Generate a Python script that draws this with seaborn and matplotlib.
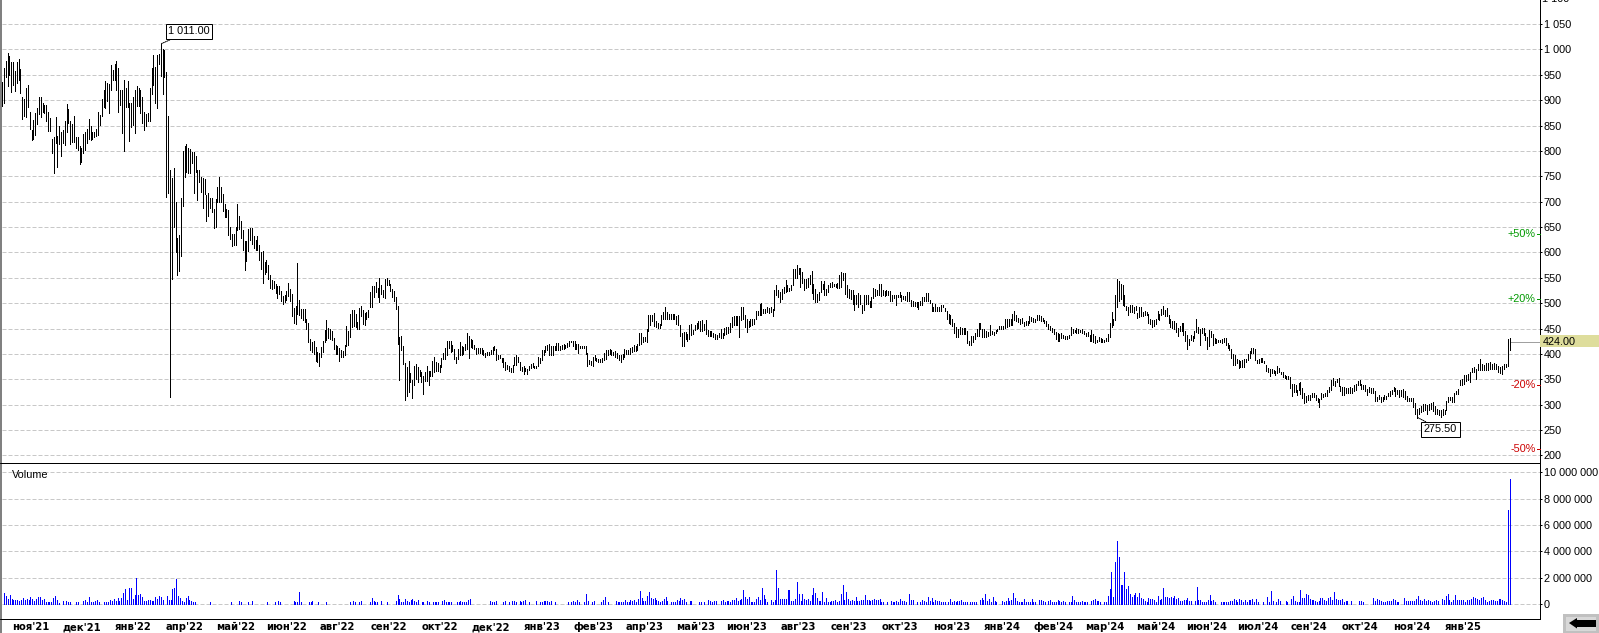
import numpy as np
import pandas as pd
import matplotlib
matplotlib.use("Agg")
import matplotlib.pyplot as plt
from matplotlib.patches import Rectangle, Polygon
from matplotlib.lines import Line2D
import seaborn as sns

W, H = 1599, 633

high_a = [935,963,977,992,987,975,975,958,976,981,961,907,902,923,929,877,841,860,874,884,907,907,894,890,890,877,864,823,828,866,829,849,837,842,858,892,882,858,853,869,827,828,810,805,833,838,844,863,849,838,838,844,877,871,902,921,938,933,932,969,959,971,978,963,921,920,940,923,938,895,894,906,920,928,923,920,906,877,873,874,923,963,989,966,989,991,1011,1000,998,956]
low_a = [888,895,946,928,950,917,930,919,933,940,915,862,869,867,886,844,821,823,831,854,873,867,877,875,858,840,840,796,756,816,769,813,791,815,812,838,856,813,818,818,805,802,775,779,796,802,815,823,821,823,827,829,831,851,869,886,884,899,874,921,940,940,920,877,890,836,800,887,887,820,848,851,836,888,888,874,856,842,849,858,859,913,930,895,884,971,948,912,946,710]

high_b = [868,762,746,767,699,628,634,707,799,809,813,805,803,798,797,791,763,763,749,747,745,713,718,708,707,686,705,728,748,728,715,695,685,683,650,637,637,650,695,671,661,644,622,622,647,648,648,632,624,632,614,601,602,582,586,576,555,545,544,538,533,533,525,515,517,525,540,528,519,491,494,580,507,489,489,489,468,461,430,423,425,413,404,402,413,425,448,466,452,450,446,431,417,415,412,407,406,418,456,446,479,486,486,479,463,491,494,486,481,482,486]
low_b = [717,315,548,651,601,555,563,593,692,749,759,757,757,776,718,759,703,738,719,688,716,662,672,687,680,648,650,699,699,699,682,670,670,634,626,613,614,614,644,647,629,604,565,584,602,624,617,609,604,604,586,567,540,558,561,548,530,528,530,520,510,519,505,498,502,507,515,505,475,461,459,479,476,471,466,463,450,423,407,404,400,387,385,377,395,404,423,427,431,430,427,410,399,399,386,395,394,397,415,418,434,453,456,453,450,450,474,459,458,469,473]

high_c = [523,533,533,541,530,549,535,526,547,550,545,538,528,525,513,495,434,436,416,382,375,387,362,349,377,380,375,368,364,357,364,377,367,367,387,395,384,382,379,392,401,412,425,426,425,418,409,395,409,424,416,414,420,442,436,430,428,418,412,412,412,412,407,401,403,403,408,413,415,409,397,398,393,392,385,378,377,372,379,395,397,395,385,375,377,372,370,377,380,382,377,377,395,393,407,407,415,418,420,415,415,415,422,422,416,417,420,418,421,426,426,425,426,420,420,415,415,416,415,402,389,387,395,397,392,390]
low_c = [492,493,513,522,513,502,518,513,510,535,535,525,512,504,488,420,349,407,380,310,318,326,344,313,338,351,344,357,344,322,346,346,339,357,357,364,366,367,365,374,390,391,398,412,403,405,390,382,390,398,397,399,408,410,393,413,411,410,399,401,401,400,397,395,397,397,399,400,407,389,391,392,385,374,369,370,366,364,364,378,378,384,369,367,361,366,361,369,372,374,372,372,376,382,389,398,403,407,398,397,397,407,407,408,408,410,410,412,413,416,423,415,410,410,401,412,412,412,400,376,380,378,377,388,387,385]

high_d = [391,393,402,408,408,410,408,403,405,402,398,398,399,409,407,407,412,413,418,415,420,441,441,434,434,449,477,477,477,481,464,461,459,477,482,493,483,479,479,479,479,474,476,458,441,443,444,439,458,459,448,458,462,464,464,466,459,466,448,445,446,441,439,437,441,449,441,451,453,453,462,472,474,474,474,474,493,492,477,469,464,469,469,469,485,484,499,501,489,489,492,491,492,489,527,535,527,522,528,531,545,535,530,535,568,568,576,570,569,561,548,548,549,556,563,538,528,518,522,543,538,543,528,535,540,541,538,538,540,555]
low_d = [384,385,389,390,397,399,397,397,395,393,389,384,390,395,399,399,399,403,405,405,407,418,420,424,425,424,445,458,464,455,454,451,451,458,469,468,469,468,469,469,469,459,458,436,415,416,430,425,430,437,439,447,449,451,446,446,447,439,436,436,436,433,430,430,433,432,431,437,439,441,444,453,458,458,458,433,466,469,454,444,454,456,458,459,469,476,477,477,480,481,482,481,482,474,487,516,512,502,508,520,522,525,525,526,535,549,549,558,531,540,526,530,531,538,520,508,502,502,507,522,528,516,517,522,531,531,533,531,530,530]

high_e = [562,559,559,535,528,527,527,516,517,520,517,497,516,517,516,505,513,530,528,527,537,537,526,525,526,525,525,516,516,516,516,523,517,515,514,523,522,507,505,502,502,502,504,513,512,520,520,507,501,492,499,492,492,497,497,490,484,478,476,469,461,453,449,453,451,451,451,446,426,436,436,441,449,461,461,449,449,446,443,458,446,443,448,449,455,456,456,468,468,469,469,479,484,476,471,469,471,463,464,464,474,472,471,468,476,477,474,471,466,464,459,455,451,449,443,441,439,442,438,436,436,438,454,449,448,451,449]
low_e = [532,545,518,512,511,509,499,486,499,492,499,480,486,499,499,492,493,511,515,516,516,515,516,515,516,517,504,505,511,497,512,513,505,509,507,505,504,495,495,494,493,488,497,497,504,505,505,500,484,484,484,485,484,485,492,484,469,461,459,455,441,433,433,439,439,439,439,422,418,418,423,430,436,436,449,433,434,434,436,438,439,438,441,445,449,449,449,451,454,456,457,458,466,464,463,459,461,456,457,457,461,464,463,463,466,466,464,464,461,455,449,448,444,439,430,425,426,431,431,430,430,432,438,441,443,441,442]

high_f = [448,449,446,441,443,438,448,440,436,428,434,432,430,428,432,440,461,483,469,517,547,543,537,535,516,494,492,497,497,492,495,481,492,493,482,484,482,479,468,466,466,468,484,479,488,495,486,490,477,468,464,464,461,451,456,461,462,445,438,430,438,435,445,469,454,449,451,451,441,433,448,446,440,431,430,428,428,430,431,431,422,418,409,399,397,390,389,386,389,390,390,400,405,412,412,410,388,390,393,392,387,379,372,370,370,369,367,377,372,365,364,359,356,356,354,341,341,338,330,343]
low_f = [443,441,440,436,435,426,426,424,422,424,426,424,424,424,425,426,434,453,457,466,492,504,509,497,495,486,476,482,482,480,486,471,472,474,474,476,477,461,459,454,456,459,468,466,476,479,474,474,462,453,451,449,443,436,445,445,438,425,409,418,428,426,431,443,441,418,441,438,428,410,416,433,418,422,422,423,423,422,424,417,412,407,393,379,379,382,372,374,375,374,384,389,392,401,401,389,382,382,384,384,382,366,365,357,363,362,359,362,365,361,355,353,351,351,332,317,326,326,320,330]

high_g = [344,332,324,318,319,319,324,324,319,313,311,324,322,324,329,334,349,352,347,351,353,336,334,334,332,332,334,332,339,341,347,349,341,339,339,331,334,332,332,328,315,319,316,316,319,318,324,328,330,334]
low_g = [322,314,304,305,309,309,316,316,309,305,296,311,316,317,318,326,329,338,336,344,336,328,319,320,324,324,324,324,328,329,338,339,331,331,328,319,326,324,324,308,307,311,306,308,311,311,317,318,322,328]

high_h = [333,330,330,330,331,327,318,314,314,314,303,292,294,297,302,301,299,302,304,305,297,292,290,289,292,290,308,315,315,315,323,327,331,348,351,358,358,361,364,373,374,371,381,391,381,379,383,383,384,381,383,381,377,374,377,381,381,429,431]
low_h = [318,322,315,318,315,312,308,307,307,295,282,274,282,285,287,289,281,290,292,287,282,282,280,276,279,282,289,305,310,305,305,322,322,338,338,341,346,348,345,364,364,350,368,368,368,369,368,369,371,371,371,371,364,363,361,371,374,376,407]

volume_a = [810,610,350,680,350,300,300,300,250,300,430,300,380,300,500,350,250,350,500,500,300,350,150,150,150,180,430,610,300,100,0,250,0,230,150,150,0,0,150,150,0,0,230,300,150,500,180,150,250,300,150,0,0,150,150,150,300,200,350,200,480,230,430,860,1140,300,1220,1220,380,680,1950,660,730,500,230,230,300,300,230,250,500,350,610,500,300,0,610,300,300,1140,1220,1900,610,430,230,150,430,610,300,250,180,150,0,0,0,0,0,0,0,150,0,0,0,0,0,0,0,0,0,0,150,0,0,0,230,150,0,0,0,150,0,230,0,0,0,0,0,0,0,150,0,0,0,150,0,230,150,0,0,0,0,0,0,230,150,150,910,150,0,0,0,150,150,230,0,0,150,0]
volume_b = [0,0,0,150,0,0,0,0,0,0,0,0,0,0,0,0,150,0,230,150,0,150,230,0,0,0,0,150,470,230,150,150,0,230,0,0,150,0,0,0,0,230,700,390,150,150,390,230,150,310,390,230,150,310,0,150,150,0,230,150,0,150,150,150,150,0,230,310,150,150,150,150,0,0,150,150,230,150,150,150,310,390,0,0,0,0,0,0,0,0,0,0,230,150,150,230,0,0,0,150,230,0,150,0,230,230,150,0,230,150,230,310,0,150,0,0,0,230,0,150,150,230,230,230,150,230,0,150,0,0,0,0,0,0,150,0,150,230,150,310,150,0,0,150,780,230,0,150,230,0,0,0,150,310,550,0,150,0,0,0,230,150,150,150,150,310,150,150,310,230,310,150,390,1010,470,230,230,620,930,470,390,470,310,230,150,230,390,550,230,0,150,150,150,310,230,470,310,390,150,0,230,230,0,0,0,150,150,0,150,0,310,230,150,230,230,0,0,230,310,150,230,230,150,310,310,470,230,310,390,1090,550,390,550,150,150,150,390,550,310,1250,700,390,150,0,310,150,310,2570,1250,390,390,390,390,1090,1090,230,230,390,1640,780,230,780,390,310,390,230,700,1250,860,470,230]
volume_c = [230,910,150,460,150,150,230,230,300,150,230,760,1440,300,910,380,230,300,230,530,200,230,300,300,690,300,300,230,300,380,300,300,380,150,150,0,150,0,200,120,150,200,120,380,230,230,150,0,760,300,300,0,150,0,150,300,230,150,530,230,460,150,300,230,230,150,150,150,0,150,380,150,230,150,230,230,300,150,150,150,0,150,150,150,150,0,300,460,300,760,230,380,150,530,230,150,0,0,230,150,230,460,230,300,830,460,230,150,150,150,380,150,150,150,380,150,150,0,300,300,230,150,0,230,300,150,150,150,300,230,150,230,150,0,150,150,610,300,150,150,150,230,150,150,150,0,230,300,380,230,230,150,0,150,150,610,1140,2440,530,3200,4800,3570,1440,1440,2440,1140,1370,760,530,690,830,530,830,460,380,230,150,460,380,380,300,150,610,300,380,1220,530,530,460,530,460,610,380,460,230,230,300,300,460,230,230,0,230,1290,300,300,150,150,150,300,690,230,300,150,0,0,150,150,150,150,150,230,230,380,300,150,380,300,150,300,150,300,300,380,150,380,150,0,0,150,0,530,150,1000,230,0,150,380,230,0,0,230,150,0,380,610,230,150,150,1060,460,460,760,690,380,300,300,230,150,230]
volume_d = [460,460,300,250,430,530,300,910,350,300,300,350,150,250,250,0,200,0,0,0,200,250,150,0,0,0,0,430,250,350,300,250,180,180,250,250,250,350,300,180,150,0,0,430,250,250,230,250,250,380,610,300,230,350,250,300,230,150,200,300,250,0,380,300,610,760,300,150,300,680,300,300,300,300,150,300,300,350,530,430,350,300,430,530,300,150,200,300,300,230,200,380,380,280,230,150,7140,9470]

month_labels = ["ноя'21","дек'21","янв'22","апр'22","май'22","июн'22","авг'22","сен'22","окт'22","дек'22",
                "янв'23","фев'23","апр'23","май'23","июн'23","авг'23","сен'23","окт'23","ноя'23","янв'24",
                "фев'24","мар'24","май'24","июн'24","июл'24","сен'24","окт'24","ноя'24","янв'25"]
price_ticks = list(range(200, 1101, 50))
volume_ticks = [0, 2000, 4000, 6000, 8000, 10000]
percent_levels = [636, 509, 339, 212]
percent_labels = ["+50%", "+20%", "-20%", "-50%"]
last_price = 424.0
max_price = 1011.0
min_price = 275.5

sns.set_theme(style="white")
plt.rcParams['font.family'] = ['Liberation Sans', 'DejaVu Sans']

X0, X1 = 2, 1539.5
price_sections = [(high_a, low_a, 2.0, 166.3), (high_b, low_b, 168.3, 368.3), (high_c, low_c, 370.3, 598.3),
                  (high_d, low_d, 600.3, 839.3), (high_e, low_e, 841.3, 1078.3), (high_f, low_f, 1080.3, 1299.3),
                  (high_g, low_g, 1300.3, 1394.0), (high_h, low_h, 1395.3, 1509.5)]
volume_sections = [(volume_a, 4.0, 320.0), (volume_b, 320.0, 819.0), (volume_c, 820.3, 1319.0), (volume_d, 1320.0, 1510.3)]

rows = []
uid = 0
for hi, lo, a, b in price_sections:
    for x, h, l in zip(np.linspace(a, b, len(hi)), hi, lo):
        rows += [(uid, x, h), (uid, x, l)]
        uid += 1
price_df = pd.DataFrame(rows, columns=["bar", "pos", "price"])

rows = []
uid = 0
for vals, a, b in volume_sections:
    for x, v in zip(np.linspace(a, b, len(vals)), vals):
        if v > 0:
            rows += [(uid, x, 0), (uid, x, v)]
            uid += 1
vol_df = pd.DataFrame(rows, columns=["bar", "pos", "vol"])

fig = plt.figure(figsize=(W / 100, H / 100), dpi=100, facecolor="white")

def box(l, t, r, b):
    return [l / W, 1 - b / H, (r - l) / W, (b - t) / H]

ax = fig.add_axes(box(X0, 0, X1, 463.3))
axv = fig.add_axes(box(X0, 463.3, X1, 619.3))
PX = 0.72
GRID = dict(color="#c8c8c8", lw=PX, ls=(0, (4, 2)), zorder=1)
YB, YT = 1000 - 413.8 / 0.5075, 1000 + 49.4 / 0.5075

for a in (ax, axv):
    a.set_facecolor("white")
    for s in a.spines.values():
        s.set_visible(False)
    a.spines["right"].set_visible(True)
    a.spines["right"].set_color("black")
    a.spines["right"].set_linewidth(PX)
    a.yaxis.tick_right()
    a.tick_params(axis="y", right=True, left=False, length=1.5, width=PX, color="black", pad=1.5,
                  labelsize=7.8, labelcolor="black")
    a.tick_params(axis="x", bottom=False, top=False)

for t in price_ticks:
    if t <= YT:
        ax.axhline(t, **GRID)
sns.lineplot(data=price_df, x="pos", y="price", units="bar", estimator=None, sort=False, color="black",
             linewidth=PX, antialiased=False, legend=False, ax=ax)
ax.set_xlabel(""); ax.set_ylabel("")
ax.set_xticks([])
visible_ticks = [t for t in price_ticks if t <= YT]
ax.set_yticks(visible_ticks)
ax.set_yticklabels([f"{t:,}".replace(",", " ") for t in visible_ticks])
ax.set_xlim(X0, X1)
ax.set_ylim(YB, YT)
for t in price_ticks:
    if t > YT:
        ax.text(1541.5, t, f"{t:,}".replace(",", " "), fontsize=7.8, color="black", ha="left", va="center", clip_on=False)

K = 131.7 / 10000
for t in volume_ticks:
    axv.axhline(t, **GRID)
sns.lineplot(data=vol_df, x="pos", y="vol", units="bar", estimator=None, sort=False, color="#0000ff",
             linewidth=PX, antialiased=False, legend=False, ax=axv)
axv.set_xlabel(""); axv.set_ylabel("")
axv.set_yticks(volume_ticks)
axv.set_yticklabels([f"{t * 1000:,}".replace(",", " ") for t in volume_ticks])
axv.set_xticks(31 + 51.13 * np.arange(len(month_labels)))
axv.set_xticklabels(month_labels, fontweight="bold", fontsize=7.2, color="black", family="DejaVu Sans")
axv.tick_params(axis="x", pad=2.0, length=0)
axv.set_xlim(X0, X1)
axv.set_ylim(-15.3 / K, (604 - 463.3) / K)

# separators
fig.add_artist(Line2D([0, X1 / W], [1 - 463.3 / H] * 2, color="black", lw=PX))
fig.add_artist(Line2D([0, X1 / W], [1 - 619.3 / H] * 2, color="black", lw=PX))
fig.add_artist(Rectangle((0, 0), 2 / W, 1, transform=fig.transFigure, color="#808080", lw=0))

axv.text(12, 1 - 12.0 / 156, "Volume", transform=axv.get_xaxis_transform(), fontsize=7.8, color="black",
         ha="left", va="center")

# callouts
def callout(txt, val, xpt, box_xy):
    ax.annotate(txt, xy=(xpt, val), xytext=box_xy, textcoords="data", fontsize=7.8, color="black",
                ha="center", va="center",
                bbox=dict(boxstyle="square,pad=0.22", fc="white", ec="black", lw=PX),
                arrowprops=dict(arrowstyle="-", color="black", lw=PX, ls=(0, (1, 1)), shrinkA=0, shrinkB=0),
                zorder=6)

callout("1 011.00", max_price, 161, (189, 1000 + (49.5 - 31.5) / 0.5075))
callout("275.50", min_price, 1417, (1440.5, 1000 - (429.5 - 49.5) / 0.5075))

# percent marks
colors = ["#009900", "#009900", "#cc0000", "#cc0000"]
for lvl, txt, c in zip(percent_levels, percent_labels, colors):
    ax.text(1535.5, lvl, txt, color=c, fontsize=7.8, ha="right", va="center", zorder=5)
    ax.plot([1536.5, 1539.5], [lvl, lvl], color=c, lw=PX, antialiased=False, zorder=5, clip_on=False)
ax.set_xlim(X0, X1)
ax.set_ylim(YB, YT)

# last price
ax.plot([1510.5, 1539.5], [last_price, last_price], color="#a0a0a0", lw=PX, antialiased=False, zorder=3)
ax.set_xlim(X0, X1)
ax.set_ylim(YB, YT)
yc = 49.4 + (1000 - last_price) * 0.5075
fig.add_artist(Rectangle((1540 / W, 1 - 347 / H), 59 / W, 12 / H, transform=fig.transFigure,
                         color="#dedd9c", lw=0, zorder=8))
fig.text(1542.5 / W, 1 - yc / H, "424.00", fontsize=7.8, color="black", ha="left", va="center", zorder=9)

# scroll button
fig.add_artist(Rectangle((1563 / W, 0), 36 / W, 19 / H, transform=fig.transFigure, color="#c0c0c0", lw=0))
fig.add_artist(Rectangle((1566 / W, 2 / H), 30 / W, 14 / H, transform=fig.transFigure, color="#d8d8d8", lw=0))
arrow_px = [(1569, 623), (1577, 618), (1577, 620), (1596, 620), (1596, 627), (1577, 627), (1577, 628.5)]
fig.add_artist(Polygon([(x / W, 1 - y / H) for x, y in arrow_px], closed=True, transform=fig.transFigure,
                       color="black", lw=0))

fig.savefig("out.png", dpi=100, facecolor="white")
